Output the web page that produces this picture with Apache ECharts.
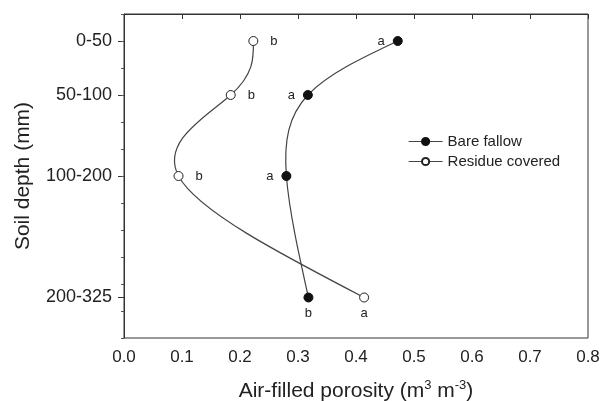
<!DOCTYPE html>
<html>
<head>
<meta charset="utf-8">
<script src="https://cdn.jsdelivr.net/npm/echarts@6/dist/echarts.min.js"></script>
<style>html,body{margin:0;padding:0;background:#fff}#c{width:604px;height:401px}</style>
</head>
<body>
<div id="c"></div>
<script>
// depth classes (mm) and their midpoints used for the y position
var depthLabels = ['0-50', '50-100', '100-200', '200-325'];
var depthMid = [25, 75, 150, 262.5];
// air-filled porosity (m3 m-3)
var bareFallow = [0.472, 0.317, 0.280, 0.318];
var residueCovered = [0.223, 0.184, 0.094, 0.414];
// significance letters
var bareLetters = ['a', 'a', 'a', 'b'];
var residueLetters = ['b', 'b', 'b', 'a'];
var xTicks = [0, 0.1, 0.2, 0.3, 0.4, 0.5, 0.6, 0.7, 0.8];

var FONT = 'Liberation Sans, Arial, Helvetica, sans-serif';
var INK = '#222';
var LINE = '#444';

function pts(vals, letters, sideFirst, sideLast) {
  return vals.map(function (v, i) {
    var last = i === vals.length - 1;
    return {
      value: [v, depthMid[i]],
      label: {
        show: true,
        formatter: letters[i],
        position: last ? sideLast : sideFirst,
        distance: last ? 4 : (sideFirst === 'left' ? 8 : 12),
        fontSize: 13,
        fontFamily: FONT,
        color: INK
      }
    };
  });
}

// natural cubic spline tangents (uniform parameter) for one coordinate
function splineTangents(p) {
  var n = p.length, a = [], b = [], c = [], d = [], i;
  for (i = 0; i < n; i++) {
    if (i === 0) { a[i] = 0; b[i] = 2; c[i] = 1; d[i] = 3 * (p[1] - p[0]); }
    else if (i === n - 1) { a[i] = 1; b[i] = 2; c[i] = 0; d[i] = 3 * (p[n - 1] - p[n - 2]); }
    else { a[i] = 1; b[i] = 4; c[i] = 1; d[i] = 3 * (p[i + 1] - p[i - 1]); }
  }
  for (i = 1; i < n; i++) {
    var m = a[i] / b[i - 1];
    b[i] -= m * c[i - 1];
    d[i] -= m * d[i - 1];
  }
  var D = [];
  D[n - 1] = d[n - 1] / b[n - 1];
  for (i = n - 2; i >= 0; i--) D[i] = (d[i] - c[i] * D[i + 1]) / b[i];
  return D;
}

// smooth spline connector through the data points; pixel positions come from api.coord
function curveSeries(name, vals) {
  return {
    name: name, type: 'custom', z: 1, silent: true,
    encode: {x: 0, y: 1},
    data: vals.map(function (v, i) { return [v, depthMid[i]]; }),
    renderItem: function (params, api) {
      var i = params.dataIndex, n = vals.length;
      if (i >= n - 1) return null;
      var P = vals.map(function (v, j) { return api.coord([v, depthMid[j]]); });
      var DX = splineTangents(P.map(function (q) { return q[0]; }));
      var DY = splineTangents(P.map(function (q) { return q[1]; }));
      var a = P[i], b = P[i + 1];
      return {
        type: 'bezierCurve',
        shape: {x1: a[0], y1: a[1], x2: b[0], y2: b[1],
          cpx1: a[0] + DX[i] / 3, cpy1: a[1] + DY[i] / 3,
          cpx2: b[0] - DX[i + 1] / 3, cpy2: b[1] - DY[i + 1] / 3},
        style: {stroke: LINE, lineWidth: 1.2, fill: null}
      };
    }
  };
}

var chart = echarts.init(document.getElementById('c'), null, {renderer: 'canvas'});
chart.setOption({
  animation: false,
  backgroundColor: '#fff',
  grid: {left: 124, top: 14, right: 16, bottom: 63, outerBoundsMode: 'none', containLabel: false,
    show: true, borderColor: '#333', borderWidth: 1, backgroundColor: 'transparent'},
  legend: {
    left: 403, top: 129, orient: 'vertical', itemWidth: 34, itemHeight: 9, itemGap: 5,
    textStyle: {fontSize: 15, fontFamily: FONT, color: INK},
    lineStyle: {opacity: 1, color: LINE, width: 1.2},
    data: ['Bare fallow', 'Residue covered']
  },
  xAxis: {
    type: 'value', min: 0, max: 0.8, interval: 0.1,
    axisLine: {show: true, lineStyle: {color: '#333', width: 1}},
    axisTick: {show: true, inside: false, length: 5, lineStyle: {color: '#333'}},
    axisLabel: {fontSize: 17, fontFamily: FONT, color: INK, margin: 11,
      formatter: function (v) { return v.toFixed(1); }},
    splitLine: {show: false},
    name: 'Air-filled porosity (m{sup|3} m{sup|-3})',
    nameLocation: 'middle', nameGap: 41,
    nameTextStyle: {fontSize: 21, fontFamily: FONT, color: INK, lineHeight: 24,
      rich: {sup: {fontSize: 13, fontFamily: FONT, color: INK, verticalAlign: 'top', lineHeight: 24, padding: [0, 0, 7, 0]}}}
  },
  yAxis: [{
    type: 'value', min: 0, max: 300, inverse: true, position: 'left',
    axisLine: {show: true, lineStyle: {color: '#333', width: 1}},
    axisTick: {show: true, length: 6, customValues: depthMid, lineStyle: {color: '#333'}},
    axisLabel: {show: true, customValues: depthMid, fontSize: 18, fontFamily: FONT, color: INK, margin: 12,
      formatter: function (v) { return depthLabels[depthMid.indexOf(v)]; }},
    splitLine: {show: false},
    name: 'Soil depth (mm)', nameLocation: 'middle', nameGap: 90, nameRotate: 90,
    nameTextStyle: {fontSize: 21, fontFamily: FONT, color: INK}
  }, {
    type: 'value', min: 0, max: 300, inverse: true, position: 'left', offset: 0, interval: 25,
    axisLine: {show: false},
    axisTick: {show: true, length: 3, lineStyle: {color: '#555'}},
    axisLabel: {show: false},
    splitLine: {show: false}
  }],
  series: [
    curveSeries('Bare fallow spline', bareFallow),
    curveSeries('Residue covered spline', residueCovered),
  {
    name: 'Bare fallow', type: 'line', yAxisIndex: 0, z: 3,
    symbol: 'circle', symbolSize: 9,
    itemStyle: {color: '#111', borderColor: '#111', borderWidth: 1},
    lineStyle: {color: LINE, width: 1.2, opacity: 0},
    data: pts(bareFallow, bareLetters, 'left', 'bottom')
  }, {
    name: 'Residue covered', type: 'line', yAxisIndex: 0, z: 3,
    symbol: 'circle', symbolSize: 9,
    itemStyle: {color: '#fff', borderColor: '#222', borderWidth: 1},
    lineStyle: {color: LINE, width: 1.2, opacity: 0},
    data: pts(residueCovered, residueLetters, 'right', 'bottom')
  }]
});
</script>
</body>
</html>
